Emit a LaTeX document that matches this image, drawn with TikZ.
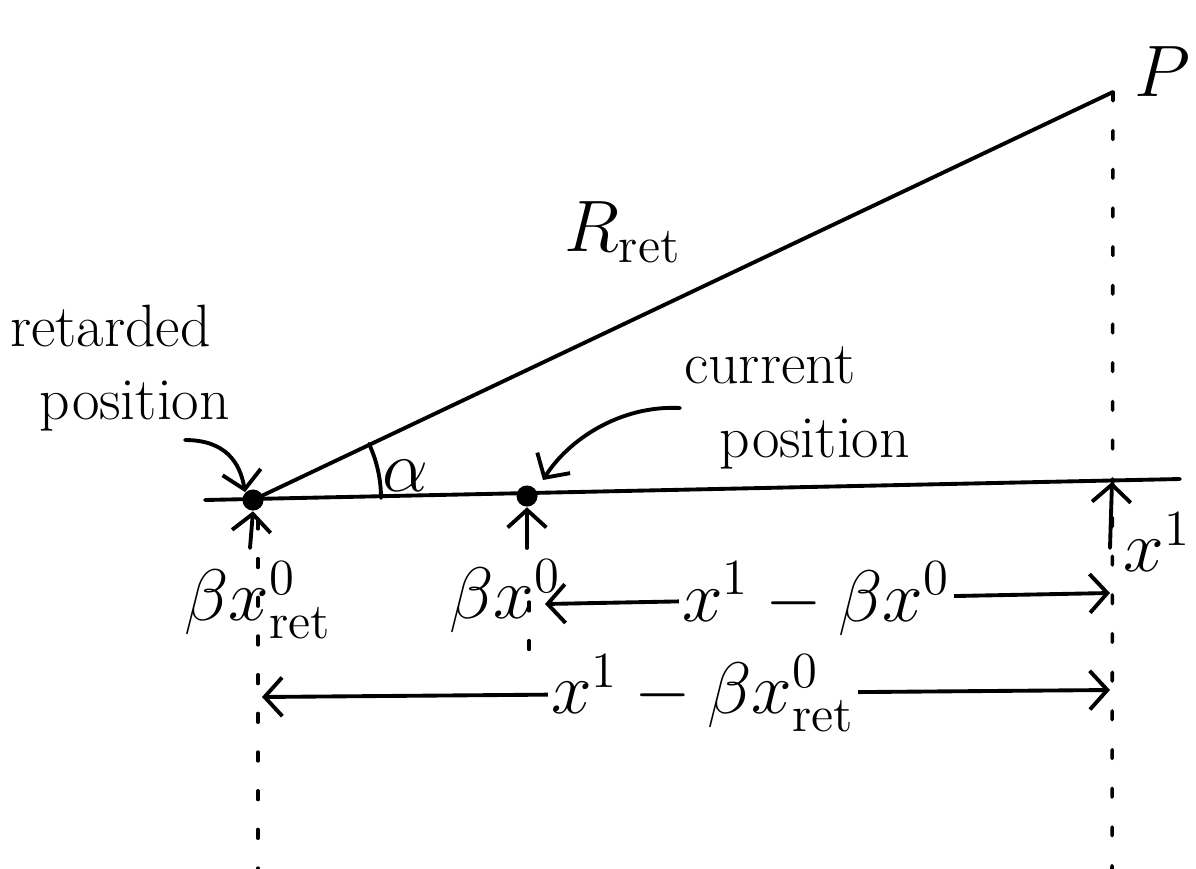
\documentclass[tikz,border=0pt]{standalone}
\usetikzlibrary{arrows.meta}
\begin{document}
\begin{tikzpicture}[x=0.01cm,y=-0.01cm]
\tikzset{
  ink/.style={line width=1.1pt, line cap=round},
  vline/.style={line width=1pt, line cap=round, dash pattern=on 2.5pt off 8.5pt},
  pijl/.style={ink, -{Straight Barb[length=5pt,width=11pt]}},
  dubbel/.style={ink, {Straight Barb[length=5pt,width=11pt]}-{Straight Barb[length=5pt,width=11pt]}},
  lbl/.style={font=\fontsize{17}{19}\selectfont, align=left, inner sep=0pt},
  wisk/.style={font=\fontsize{20}{24}\selectfont, inner sep=1pt},
  stip/.style={circle, fill, inner sep=0pt, minimum size=6pt}
}
\useasboundingbox (0,0) rectangle (1196,869);

% as en punten
\coordinate (asL) at (205,500);
\coordinate (asR) at (1180,479);
\node[stip] (ret) at (253,500) {};
\node[stip] (cur) at (527,496) {};
\coordinate (top) at (1113,92);
\coordinate (foot) at (1112,482);

\draw[ink] (asL) -- (asR);
\draw[ink] (ret.center) -- (top) node[pos=0.43, above=16pt, wisk] (rlab) {$R_{\mathrm{ret}}$};

% hoek alpha
\draw[ink] (381,498) arc[start angle=0, end angle=-25, radius=128];
\node[wisk] (alpha) at (405,476) {$\alpha$};

% verticale stippellijnen
\coordinate (retA) at (258,520);
\coordinate (retB) at (258,869);
\coordinate (curA) at (529,602);
\coordinate (curB) at (529,676);
\coordinate (rgtB) at (1112,869);
\draw[vline] (top) -- (rgtB);
\draw[vline] (retA) -- (retB);
\draw[vline] (curA) -- (curB);

% teksten met pijlen
\node[lbl] (retpos) at (120,368) {retarded\\[2pt]\hspace*{0.5em}position};
\coordinate (retpijl) at (185,440);
\draw[pijl] (retpijl) .. controls (225,440) and (240,462) .. (ret.north west);

\node[lbl] (curpos) at (797,408) {current\\[2pt]\hspace*{0.6em}position};
\coordinate (curpijl) at (680,408);
\draw[pijl] (curpijl) .. controls (620,405) and (568,440) .. (543,480);

% pijltjes omhoog
\coordinate (retvoet) at (250,548);
\coordinate (curvoet) at (527,548);
\coordinate (rgtvoet) at (1110,548);
\draw[pijl] (retvoet) -- (ret.south);
\draw[pijl] (curvoet) -- (cur.south);
\draw[pijl] (rgtvoet) -- (foot);
\node[wisk, anchor=east] (x1) at (1195,542) {$x^1$};
\node[wisk, anchor=east] (plab) at (1195,72) {$P$};

% labels onder de as
\node[wisk] (bret) at (258,600) {$\beta x^0_{\mathrm{ret}}$};
\node[wisk] (bcur) at (505,596) {$\beta x^0$};

% afstanden
\coordinate (d1L) at (545,604);
\coordinate (d1R) at (1110,593);
\coordinate (d2L) at (262,697);
\coordinate (d2R) at (1110,690);
\draw[dubbel] (d1L) -- (d1R) node[pos=0.48, fill=white, wisk] (d1lab) {$x^1-\beta x^0$};
\draw[dubbel] (d2L) -- (d2R) node[pos=0.52, fill=white, wisk] (d2lab) {$x^1-\beta x^0_{\mathrm{ret}}$};
\end{tikzpicture}
\end{document}
